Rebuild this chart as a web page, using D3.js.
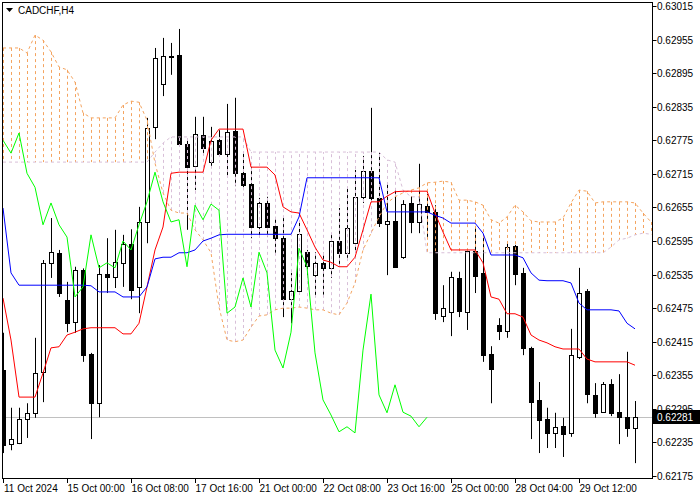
<!DOCTYPE html>
<html>
<head>
<meta charset="utf-8">
<script src="https://cdn.jsdelivr.net/npm/d3@7"></script>
<style>
  body { margin: 0; background: #fff; }
  svg { display: block; font-family: "Liberation Sans", Arial, sans-serif; }
</style>
</head>
<body>
<svg width="700" height="500"></svg>
<script>
// CADCHF H4 candles, 80 bars
let opens = [.62364,.62232,.62234,.62277,.62288,.62361,.62556,.62574,.62490,.62450,.62543,.62393,.62305,.62536,.62531,.62556,.62590,.62513,.62629,.62799,
  .62876,.62926,.62927,.62768,.62729,.62784,.62736,.62775,.62750,.62792,.62717,.62697,.62620,.62663,.62622,.62600,.62491,.62506,.62575,.62534,
  .62556,.62547,.62595,.62574,.62591,.62674,.62720,.62672,.62625,.62631,.62566,.62663,.62629,.62658,.62647,.62461,.62468,.62529,.62468,.62577,
  .62538,.62393,.62445,.62434,.62586,.62538,.62404,.62311,.62277,.62252,.62264,.62252,.62388,.62506,.62320,.62289,.62339,.62289,.62280,.62261]
let highs = [.62431,.62297,.62297,.62305,.62422,.62561,.62636,.62579,.62522,.62549,.62546,.62395,.62552,.62600,.62615,.62606,.62616,.62656,.62815,.62940,
  .62958,.62949,.62974,.62774,.62817,.62817,.62799,.62793,.62840,.62851,.62754,.62727,.62672,.62674,.62638,.62638,.62538,.62629,.62579,.62575,
  .62574,.62609,.62654,.62691,.62722,.62747,.62833,.62754,.62699,.62686,.62668,.62675,.62733,.62679,.62659,.62516,.62540,.62540,.62579,.62620,
  .62606,.62407,.62457,.62591,.62588,.62547,.62406,.62343,.62297,.62288,.62279,.62438,.62547,.62509,.62341,.62343,.62348,.62357,.62397,.62309]
let lows = [.62216,.62221,.62232,.62243,.62279,.62307,.62529,.62495,.62432,.62431,.62379,.62241,.62280,.62502,.62511,.62513,.62491,.62466,.62591,.62777,
  .62854,.62892,.62766,.62615,.62686,.62752,.62727,.62747,.62709,.62693,.62686,.62600,.62602,.62602,.62574,.62459,.62448,.62504,.62531,.62495,
  .62499,.62529,.62552,.62565,.62574,.62663,.62665,.62620,.62534,.62547,.62563,.62609,.62609,.62602,.62454,.62450,.62425,.62459,.62436,.62502,
  .62379,.62305,.62418,.62422,.62516,.62391,.62241,.62216,.62225,.62225,.62209,.62245,.62384,.62305,.62279,.62288,.62282,.62232,.62245,.62198]
let closes = [.62230,.62241,.62277,.62288,.62359,.62556,.62575,.62502,.62448,.62543,.62391,.62305,.62536,.62531,.62557,.62590,.62507,.62629,.62797,.62922,
  .62926,.62924,.62768,.62727,.62786,.62761,.62774,.62750,.62790,.62717,.62695,.62620,.62663,.62620,.62600,.62491,.62506,.62608,.62550,.62556,
  .62547,.62595,.62574,.62618,.62674,.62720,.62672,.62627,.62631,.62549,.62661,.62629,.62661,.62647,.62466,.62475,.62531,.62470,.62577,.62532,
  .62391,.62366,.62434,.62584,.62536,.62404,.62307,.62275,.62252,.62263,.62250,.62391,.62502,.62322,.62288,.62339,.62288,.62280,.62261,.62281]

// Ichimoku lines
let tenkan = [.62493,.62418,.62316,.62316,.62316,.62359,.62404,.62406,.62427,.62432,.62438,.62440,.62440,.62440,.62440,.62429,.62429,.62448,.62513,.62579,
  .62620,.62716,.62718,.62718,.62718,.62718,.62775,.62795,.62795,.62795,.62795,.62727,.62727,.62727,.62713,.62656,.62647,.62645,.62615,.62584,
  .62561,.62557,.62549,.62549,.62566,.62615,.62665,.62665,.62675,.62683,.62684,.62684,.62684,.62684,.62645,.62611,.62579,.62579,.62579,.62579,
  .62556,.62495,.62491,.62465,.62465,.62459,.62427,.62418,.62413,.62406,.62402,.62402,.62402,.62384,.62379,.62379,.62379,.62379,.62379,.62373]
let kijun = [.62654,.62538,.62516,.62516,.62516,.62516,.62516,.62516,.62516,.62516,.62516,.62515,.62504,.62504,.62504,.62495,.62495,.62495,.62513,.62563,
  .62566,.62566,.62574,.62574,.62579,.62595,.62600,.62606,.62607,.62607,.62607,.62607,.62607,.62607,.62607,.62607,.62607,.62638,.62708,.62708,
  .62708,.62708,.62708,.62708,.62708,.62708,.62708,.62708,.62647,.62647,.62647,.62647,.62647,.62647,.62641,.62636,.62627,.62627,.62627,.62627,
  .62609,.62570,.62570,.62570,.62570,.62565,.62538,.62525,.62524,.62524,.62524,.62520,.62484,.62472,.62472,.62472,.62472,.62470,.62448,.62438]
let chikou = [.62775,.62752,.62788,.62716,.62691,.62624,.62663,.62624,.62602,.62495,.62513,.62606,.62547,.62556,.62547,.62595,.62579,.62624,.62665,.62718,
  .62665,.62629,.62633,.62549,.62659,.62633,.62661,.62650,.62466,.62477,.62529,.62477,.62575,.62538,.62400,.62368,.62432,.62582,.62549,.62395,
  .62311,.62284,.62254,.62263,.62252,.62400,.62500,.62320,.62288,.62338,.62289,.62282,.62263,.62280]
let spanA = [.62940,.62940,.62940,.62931,.62963,.62954,.62933,.62906,.62901,.62879,.62824,.62815,.62815,.62815,.62815,.62838,.62845,.62843,.62811,.62734,
  .62681,.62650,.62645,.62645,.62615,.62597,.62574,.62477,.62418,.62415,.62418,.62441,.62461,.62463,.62472,.62475,.62475,.62477,.62475,.62472,
  .62472,.62466,.62463,.62484,.62520,.62579,.62609,.62638,.62663,.62674,.62681,.62686,.62690,.62699,.62700,.62702,.62700,.62668,.62668,.62665,
  .62659,.62633,.62627,.62638,.62659,.62647,.62631,.62629,.62629,.62629,.62636,.62663,.62686,.62684,.62663,.62665,.62665,.62665,.62665,.62663,
  .62645,.62629]
let spanB = [.62736,.62736,.62736,.62736,.62736,.62736,.62736,.62736,.62736,.62736,.62736,.62736,.62736,.62736,.62736,.62736,.62736,.62736,.62736,.62754,
  .62770,.62781,.62781,.62781,.62781,.62781,.62781,.62781,.62781,.62781,.62781,.62754,.62754,.62754,.62754,.62754,.62754,.62754,.62754,.62754,
  .62754,.62754,.62754,.62754,.62754,.62754,.62754,.62754,.62740,.62736,.62686,.62674,.62674,.62574,.62574,.62574,.62574,.62574,.62574,.62574,
  .62574,.62574,.62574,.62574,.62574,.62574,.62574,.62574,.62574,.62574,.62574,.62574,.62574,.62574,.62574,.62574,.62584,.62597,.62600,.62606,
  .62609,.62607]

let priceTicks = [.63015,.62955,.62895,.62835,.62775,.62715,.62655,.62595,.62535,.62475,.62415,.62355,.62295,.62235,.62175]
let timeTicks = [0, 8, 16, 24, 32, 40, 48, 56, 64, 72]
let timeLabels = ['11 Oct 2024','15 Oct 00:00','16 Oct 08:00','17 Oct 16:00','21 Oct 00:00','22 Oct 08:00','23 Oct 16:00','25 Oct 00:00','28 Oct 04:00','29 Oct 12:00']
let lastPrice = 0.62281

let plot = { left: 3, top: 3, right: 652, bottom: 478 }

let x = d3.scaleLinear().domain([0, 81]).range([3, 651])
let y = d3.scaleLinear().domain([0.62175, 0.63015]).range([476, 6])

let svg = d3.select('svg')
svg.append('defs').append('clipPath').attr('id', 'clip')
  .append('rect')
  .attr('x', plot.left).attr('y', plot.top)
  .attr('width', plot.right - plot.left).attr('height', plot.bottom - plot.top)

let g = svg.append('g').attr('clip-path', 'url(#clip)')

// current price line
g.append('line')
  .attr('x1', plot.left).attr('x2', plot.right)
  .attr('y1', Math.round(y(lastPrice)) + 0.5).attr('y2', Math.round(y(lastPrice)) + 0.5)
  .attr('stroke', '#c0c0c0')

let px = v => Math.round(v) + 0.5
let candles = d3.range(closes.length)

// wicks
g.selectAll('line.wick').data(candles).enter().append('line')
  .attr('x1', i => px(x(i))).attr('x2', i => px(x(i)))
  .attr('y1', i => y(highs[i])).attr('y2', i => y(lows[i]))
  .attr('stroke', '#000')

// bodies
g.selectAll('rect.body').data(candles).enter().append('rect')
  .attr('x', i => px(x(i)) - 2)
  .attr('y', i => px(y(Math.max(opens[i], closes[i]))))
  .attr('width', 4)
  .attr('height', i => Math.max(1, Math.round(Math.abs(y(opens[i]) - y(closes[i])))))
  .attr('fill', i => closes[i] >= opens[i] ? '#fff' : '#000')
  .attr('stroke', '#000')

// cloud hatching
let cloud = d3.range(spanA.length)
g.selectAll('line.hatch').data(cloud).enter().append('line')
  .attr('x1', i => px(x(i))).attr('x2', i => px(x(i)))
  .attr('y1', i => y(spanA[i])).attr('y2', i => y(spanB[i]))
  .attr('stroke', i => spanA[i] >= spanB[i] ? '#f4a460' : '#d8bfd8')
  .attr('stroke-dasharray', '3,3')

let line = arr => d3.line().x((d, i) => x(i)).y(d => y(d))(arr)

let lines = [
  { data: spanA, color: '#f4a460', dash: '3,3' },
  { data: spanB, color: '#d8bfd8', dash: '3,3' },
  { data: tenkan, color: '#ff0000' },
  { data: kijun, color: '#0000ff' },
  { data: chikou, color: '#00ff00' }
]
lines.forEach(l => {
  g.append('path')
    .attr('d', line(l.data))
    .attr('fill', 'none')
    .attr('stroke', l.color)
    .attr('stroke-dasharray', l.dash || null)
})

// frame
svg.append('rect')
  .attr('x', plot.left - 0.5).attr('y', plot.top - 0.5)
  .attr('width', plot.right - plot.left + 1).attr('height', plot.bottom - plot.top + 1)
  .attr('fill', 'none').attr('stroke', '#000')

// price axis
let yAxis = svg.append('g')
priceTicks.forEach(p => {
  let yy = Math.round(y(p)) + 0.5
  yAxis.append('line').attr('x1', plot.right + 0.5).attr('x2', plot.right + 4.5)
    .attr('y1', yy).attr('y2', yy).attr('stroke', '#000')
  yAxis.append('text').attr('x', 657).attr('y', yy + 3.5)
    .attr('font-size', 10).attr('fill', '#000').text(p.toFixed(5))
})
let ly = Math.round(y(lastPrice))
yAxis.append('rect').attr('x', plot.right + 1).attr('y', ly - 7).attr('width', 48).attr('height', 14).attr('fill', '#000')
yAxis.append('text').attr('x', 657).attr('y', ly + 4)
  .attr('font-size', 10).attr('fill', '#fff').text(lastPrice.toFixed(5))

// time axis
timeTicks.forEach((t, k) => {
  let xx = px(x(t))
  svg.append('line').attr('x1', xx).attr('x2', xx)
    .attr('y1', plot.bottom).attr('y2', plot.bottom + 5).attr('stroke', '#000')
  svg.append('text').attr('x', t === 0 ? 4 : xx).attr('y', 492)
    .attr('font-size', 10).attr('fill', '#000').text(timeLabels[k])
})

// title
svg.append('path').attr('d', 'M6,8 L13,8 L9.5,12 Z').attr('fill', '#000')
svg.append('text').attr('x', 18).attr('y', 14).attr('font-size', 10).attr('fill', '#000').text('CADCHF,H4')
</script>
</body>
</html>
